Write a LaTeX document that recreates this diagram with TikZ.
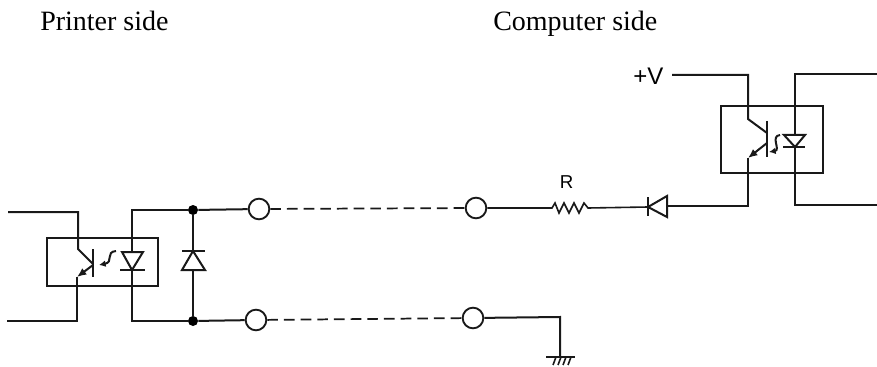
\documentclass[tikz,border=0pt]{standalone}
\usepackage{fontspec}
\setmainfont{Liberation Serif}
\setsansfont{Liberation Sans}
\usetikzlibrary{arrows.meta}
\tikzset{
  x=0.75pt,y=-0.75pt,
  wire/.style={line width=1.5pt,black!90,line join=miter},
  thin wire/.style={line width=1.2pt,black!90},
  term/.style={circle,draw=black!90,fill=white,line width=1.4pt,minimum size=15.5pt,inner sep=0pt},
  junction/.style={circle,fill=black,minimum size=7.5pt,inner sep=0pt},
  caption/.style={font=\rmfamily\fontsize{21pt}{24pt}\selectfont,anchor=base west,inner sep=0pt},
  symbolV/.style={font=\sffamily\fontsize{18pt}{20pt}\selectfont,inner sep=0pt,anchor=base west},
  symbolR/.style={font=\sffamily\fontsize{14pt}{16pt}\selectfont,inner sep=0pt,anchor=base},
  link/.style={line width=1.3pt,black!90,dash pattern=on 8pt off 4.5pt}
}
\begin{document}
\begin{tikzpicture}
\useasboundingbox (0,0) rectangle (877,367);
\fill[white] (0,0) rectangle (877,367);
\node[caption] (printer) at (40,30.5) {Printer side};
\node[caption] (computer) at (493,30.5) {Computer side};
\node[symbolV] (plusv) at (633,85) {+V};
\node[symbolR] (rlabel) at (566.5,188) {R};

% terminals and junctions
\node[term] (t1) at (259,209) {};
\node[term] (t2) at (256,320) {};
\node[term] (t3) at (476,208) {};
\node[term] (t4) at (473,318) {};
\node[junction] (j1) at (193,210) {};
\node[junction] (j2) at (193,321) {};
\draw[link] (t1) -- (t3);
\draw[link] (t2) -- (t4);

% left opto-coupler
\draw[wire] (47,238) rectangle (158,286);
\draw[wire] (8,212) -- (78,212) -- (78,249) -- (93,264);
\draw[wire] (7,321) -- (77,321) -- (77,277);
\draw[wire,-{Latex[length=7pt,width=6pt]}] (93,265) -- (77,277);
\draw[wire] (93,249) -- (93,277);
\draw[wire] (j1) -- (132,210) -- (132,252);
\draw[wire] (122,252) -- (132,270) -- (143,252) -- cycle;
\draw[wire] (120,270) -- (145,270);
\draw[wire] (132,270) -- (132,321) -- (j2);
\draw[wire] (j1) -- (t1);
\draw[wire] (j2) -- (t2);
\draw[wire,-{Latex[length=5pt,width=5pt]}] (116,251) .. controls (105,252) and (114,262) .. (99,265);

% left clamp diode
\draw[wire] (j1) -- (193,251);
\draw[wire] (182,251) -- (205,251);
\draw[wire] (193,251) -- (182,270) -- (205,270) -- cycle;
\draw[wire] (193,270) -- (j2);

% right opto-coupler
\draw[wire] (721,106) rectangle (823,173);
\draw[wire] (672,75) -- (748,75) -- (748,119) -- (767,133);
\draw[wire] (767,121) -- (767,157);
\draw[wire,-{Latex[length=7pt,width=6pt]}] (767,143) -- (748,158);
\draw[wire] (748,158) -- (748,206) -- (667,206);
\draw[wire] (877,74) -- (795,74) -- (795,135);
\draw[wire] (784,135) -- (805,135) -- (795,147) -- cycle;
\draw[wire] (783,147) -- (805,147);
\draw[wire] (795,147) -- (795,205) -- (877,205);
\draw[wire,-{Latex[length=5pt,width=5pt]}] (780,135) .. controls (770,136) and (781,150) .. (769,152);

% resistor and series diode
\draw[thin wire] (t3) -- (552,208) -- (555,203) -- (559,213) -- (564,203) -- (569,213) -- (574,203) -- (579,213) -- (584,203) -- (588,208) -- (648,207);
\draw[wire] (648,197) -- (648,216);
\draw[wire] (648,207) -- (667,196) -- (667,217) -- cycle;

% ground
\draw[wire] (t4) -- (560,317) -- (560,357);
\draw[wire] (546,357) -- (575,357);
\foreach \i in {556,561,566,571} \draw[thin wire] (\i,357) -- (\i-3,365);
\end{tikzpicture}
\end{document}
